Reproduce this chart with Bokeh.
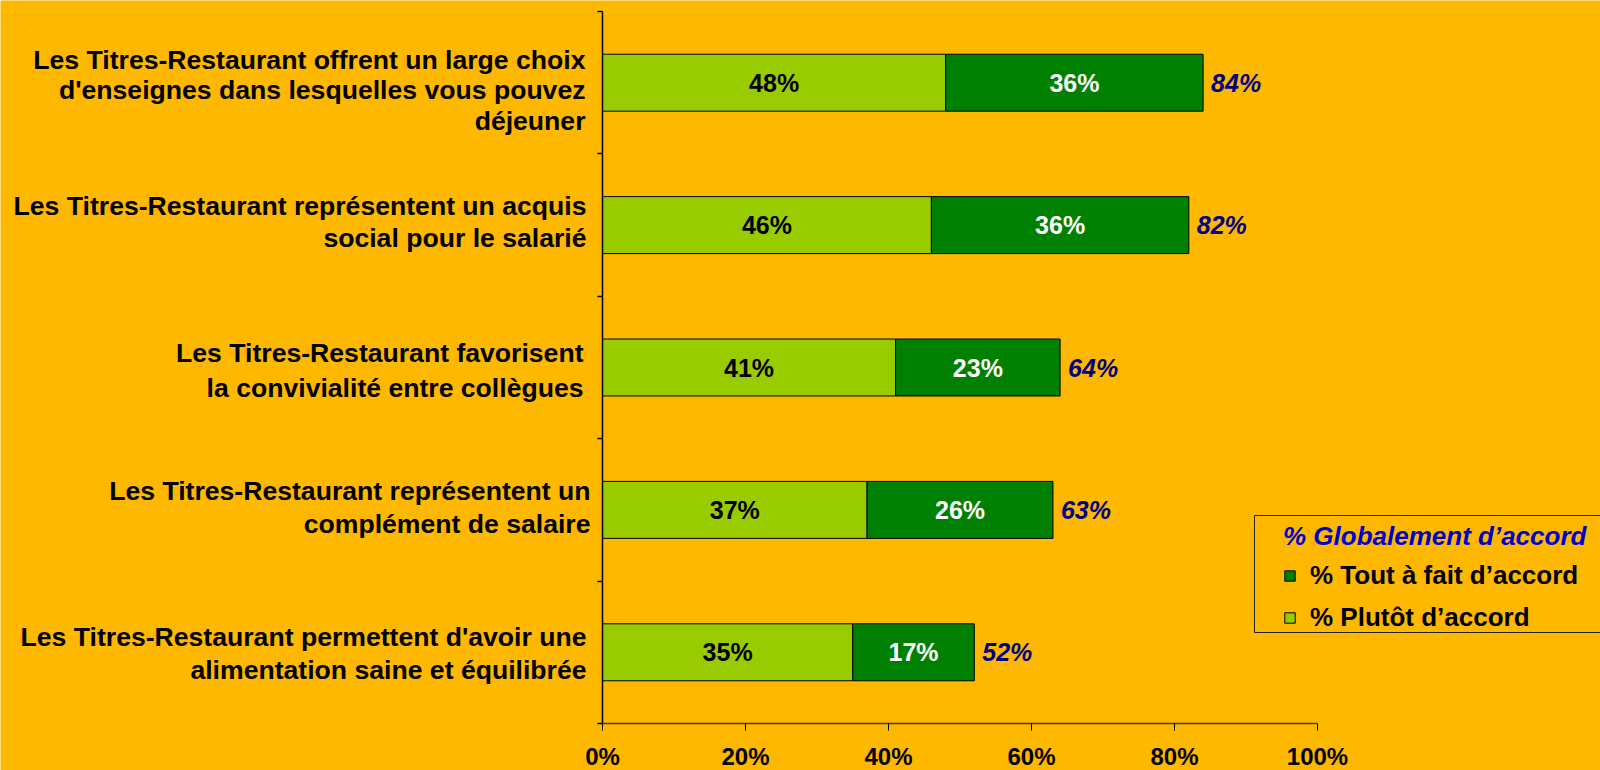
from bokeh.plotting import figure
from bokeh.models import (Range1d, FixedTicker, Legend, LegendItem,
                          BoxAnnotation, ColumnDataSource)
from bokeh.embed import file_html
from bokeh.resources import INLINE
from bokeh.core.properties import value

# ---------------- data ----------------
categories = [
    "Les Titres-Restaurant offrent un large choix d'enseignes dans lesquelles vous pouvez déjeuner",
    "Les Titres-Restaurant représentent un acquis social pour le salarié",
    "Les Titres-Restaurant favorisent la convivialité entre collègues",
    "Les Titres-Restaurant représentent un complément de salaire",
    "Les Titres-Restaurant permettent d'avoir une alimentation saine et équilibrée",
]
label_lines = [
    ["Les Titres-Restaurant offrent un large choix",
     "d'enseignes dans lesquelles vous pouvez",
     "déjeuner"],
    ["Les Titres-Restaurant représentent un acquis",
     "social pour le salarié"],
    ["Les Titres-Restaurant favorisent",
     "la convivialité entre collègues"],
    ["Les Titres-Restaurant représentent un",
     "complément de salaire"],
    ["Les Titres-Restaurant permettent d'avoir une",
     "alimentation saine et équilibrée"],
]
plutot = [48, 46, 41, 37, 35]          # % Plutôt d'accord
tout = [36, 36, 23, 26, 17]            # % Tout à fait d'accord
globalement = [84, 82, 64, 63, 52]     # % Globalement d'accord
x_ticks = [0, 20, 40, 60, 80, 100]

series_names = ["% Tout à fait d\u2019accord", "% Plutôt d\u2019accord"]
legend_title = "% Globalement d\u2019accord"

# ---------------- style / layout ----------------
BG = "#FFB800"
LIGHT = "#99CC00"
DARK = "#008000"
NAVY = "#000080"
TITLE_BLUE = "#0000CC"
FONT = "Liberation Sans"

W, H = 1600, 770
AXIS_X, AXIS_TOP, AXIS_Y = 602, 11, 723       # pixel placement of the plot axes
PX_PER_PCT = 7.15

# per-line label placement (screen px): right edge offset from axis,
# baseline offset from category centre (down +)
label_right = [-17, -16, -19, -12, -16]
label_baselines = [[-23, 7, 38], [-19, 13], [-15, 20], [-19, 14], [-15, 18]]

n = len(categories)
ypos = [n - i - 0.5 for i in range(n)]
px_per_cat = (AXIS_Y - AXIS_TOP) / n

p = figure(width=W, height=H,
           x_range=Range1d(-AXIS_X / PX_PER_PCT, (W - AXIS_X) / PX_PER_PCT),
           y_range=Range1d(-(H - AXIS_Y) / px_per_cat, n + AXIS_TOP / px_per_cat),
           output_backend="svg", toolbar_location=None,
           min_border_left=0, min_border_right=0,
           min_border_top=0, min_border_bottom=0)
p.background_fill_color = BG
p.border_fill_color = BG
p.outline_line_color = None
p.xgrid.visible = False
p.ygrid.visible = False

# x axis, anchored at y = 0
xa = p.xaxis[0]
xa.fixed_location = 0
xa.ticker = FixedTicker(ticks=x_ticks, minor_ticks=[])
xa.major_label_overrides = {t: f"{t}%" for t in x_ticks}
xa.bounds = (0, 100)
xa.axis_line_color = "#3a3a3a"
xa.axis_line_width = 1.5
xa.major_tick_line_color = "black"
xa.major_tick_out = 7
xa.major_tick_in = 0
xa.major_label_standoff = 12
xa.major_label_text_font = FONT
xa.major_label_text_font_style = "bold"
xa.major_label_text_font_size = "24px"
xa.major_label_text_color = "black"

# y axis, anchored at x = 0, ticks at the category boundaries, no labels
ya = p.yaxis[0]
ya.fixed_location = 0
ya.bounds = (0, n)
ya.ticker = FixedTicker(ticks=[], minor_ticks=list(range(n + 1)))
ya.axis_line_color = "black"
ya.axis_line_width = 1.5
ya.minor_tick_line_color = "black"
ya.minor_tick_line_width = 1.5
ya.minor_tick_out = 5
ya.minor_tick_in = 0
ya.major_tick_line_color = None

src = ColumnDataSource(dict(
    y=ypos,
    plutot=plutot,
    tout_right=[a + b for a, b in zip(plutot, tout)],
    total=globalement,
    mid_light=[a / 2 for a in plutot],
    mid_dark=[a + b / 2 for a, b in zip(plutot, tout)],
    lab_light=[f"{v}%" for v in plutot],
    lab_dark=[f"{v}%" for v in tout],
    lab_total=[f"{v}%" for v in globalement],
))

r_light = p.hbar(y="y", left=0, right="plutot", height=0.4, source=src,
                 fill_color=LIGHT, line_color="black", line_width=1)
r_dark = p.hbar(y="y", left="plutot", right="tout_right", height=0.4, source=src,
                fill_color=DARK, line_color="black", line_width=1)

p.text(x="mid_light", y="y", text="lab_light", source=src,
       text_align="center", text_baseline="middle",
       text_font=value(FONT), text_font_style="bold", text_font_size="25px",
       text_color="black")
p.text(x="mid_dark", y="y", text="lab_dark", source=src,
       text_align="center", text_baseline="middle",
       text_font=value(FONT), text_font_style="bold", text_font_size="25px",
       text_color="white")
p.text(x="total", y="y", text="lab_total", source=src, x_offset=8,
       text_align="left", text_baseline="middle",
       text_font=value(FONT), text_font_style="bold italic", text_font_size="25px",
       text_color=NAVY)

# category labels (one text per line, right-aligned left of the axis)
lx, ly, lt, lxo, lyo = [], [], [], [], []
for i, lines in enumerate(label_lines):
    for j, line in enumerate(lines):
        lx.append(0)
        ly.append(ypos[i])
        lt.append(line)
        lxo.append(label_right[i])
        lyo.append(label_baselines[i][j])
lab_src = ColumnDataSource(dict(x=lx, y=ly, text=lt, xo=lxo, yo=lyo))
p.text(x="x", y="y", text="text", x_offset="xo", y_offset="yo", source=lab_src,
       text_align="right", text_baseline="alphabetic",
       text_font=value(FONT), text_font_style="bold", text_font_size="26.6px",
       text_color="black")

# legend box (screen units measured from the bottom-left of the canvas)
p.add_layout(BoxAnnotation(left=1254, right=1700, top=H - 515, bottom=H - 632,
                           left_units="screen", right_units="screen",
                           top_units="screen", bottom_units="screen",
                           fill_alpha=0, line_color="#222222", line_width=1,
                           line_alpha=1))

legend = Legend(items=[LegendItem(label=series_names[0], renderers=[r_dark]),
                       LegendItem(label=series_names[1], renderers=[r_light])],
                title=legend_title, location=(1273, H - 643))
legend.title_text_font = FONT
legend.title_text_font_style = "bold italic"
legend.title_text_font_size = "26px"
legend.title_text_color = TITLE_BLUE
legend.title_standoff = 8
legend.label_text_font = FONT
legend.label_text_font_style = "bold"
legend.label_text_font_size = "26px"
legend.label_text_color = "black"
legend.glyph_width = 13
legend.glyph_height = 13
legend.label_standoff = 14
legend.spacing = 11
legend.padding = 10
legend.margin = 0
legend.border_line_alpha = 0
legend.background_fill_alpha = 0
p.add_layout(legend)

open("out.html", "w").write(file_html(p, INLINE))
